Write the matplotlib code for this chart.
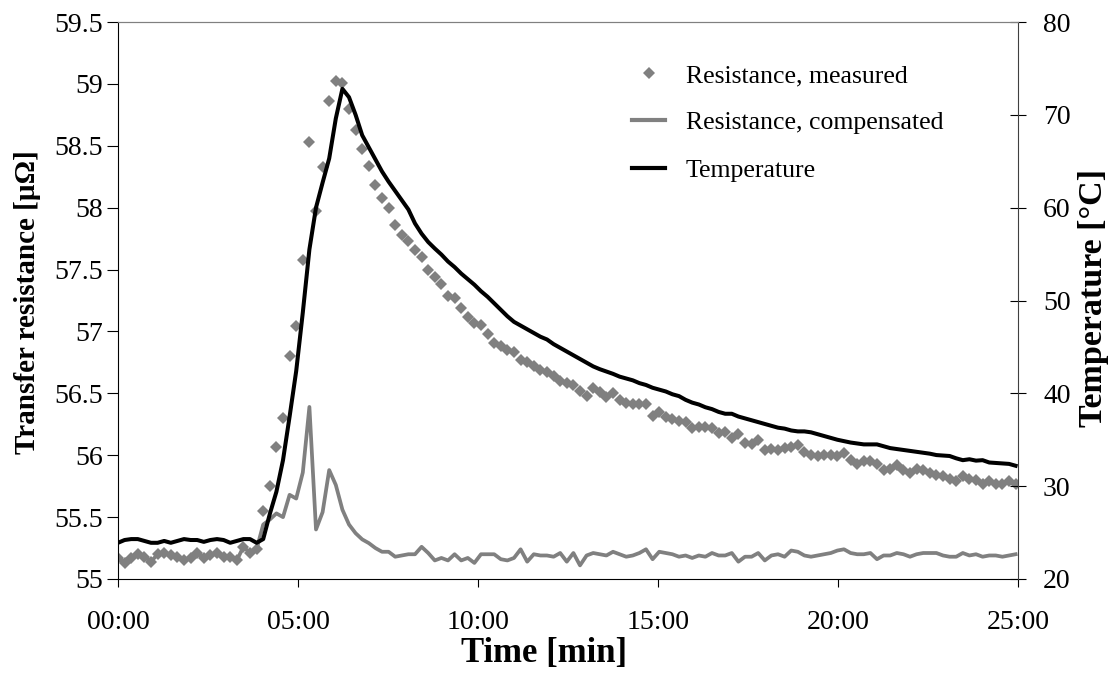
import numpy as np
import matplotlib
matplotlib.use('Agg')
import matplotlib.pyplot as plt
from matplotlib.ticker import MultipleLocator, FormatStrFormatter, FuncFormatter
from matplotlib.lines import Line2D

plt.rcParams['font.family'] = ['Liberation Serif', 'DejaVu Serif']

SAMPLE_SECONDS = 11

# transfer resistance as measured [uOhm]
resistance_measured = [
    55.17, 55.13, 55.17, 55.20, 55.18, 55.14, 55.20, 55.21, 55.19, 55.18,
    55.15, 55.17, 55.21, 55.17, 55.19, 55.21, 55.18, 55.18, 55.15, 55.26,
    55.21, 55.24, 55.55, 55.75, 56.07, 56.30, 56.80, 57.04, 57.58, 58.53,
    57.97, 58.33, 58.86, 59.02, 59.01, 58.80, 58.63, 58.47, 58.34, 58.18,
    58.08, 58.00, 57.86, 57.78, 57.73, 57.66, 57.60, 57.50, 57.44, 57.38,
    57.29, 57.27, 57.19, 57.12, 57.07, 57.05, 56.98, 56.91, 56.88, 56.85,
    56.83, 56.77, 56.75, 56.72, 56.69, 56.67, 56.64, 56.60, 56.58, 56.57,
    56.52, 56.48, 56.54, 56.51, 56.47, 56.50, 56.45, 56.42, 56.41, 56.41,
    56.41, 56.32, 56.35, 56.31, 56.29, 56.28, 56.27, 56.22, 56.23, 56.23,
    56.22, 56.18, 56.19, 56.14, 56.17, 56.10, 56.09, 56.12, 56.04, 56.05,
    56.04, 56.06, 56.07, 56.08, 56.03, 56.00, 55.99, 56.00, 56.00, 55.99,
    56.02, 55.96, 55.93, 55.95, 55.95, 55.93, 55.88, 55.89, 55.92, 55.88,
    55.86, 55.89, 55.88, 55.86, 55.84, 55.83, 55.81, 55.79, 55.83, 55.81,
    55.80, 55.77, 55.79, 55.77, 55.77, 55.79, 55.77,
]

# temperature compensated resistance [uOhm]
resistance_compensated = [
    55.17, 55.13, 55.17, 55.20, 55.18, 55.14, 55.20, 55.21, 55.19, 55.18,
    55.15, 55.17, 55.21, 55.17, 55.19, 55.21, 55.18, 55.18, 55.15, 55.26,
    55.21, 55.24, 55.44, 55.48, 55.53, 55.50, 55.68, 55.65, 55.86, 56.39,
    55.40, 55.54, 55.88, 55.76, 55.56, 55.44, 55.37, 55.32, 55.29, 55.25,
    55.22, 55.22, 55.18, 55.19, 55.20, 55.20, 55.26, 55.21, 55.15, 55.17,
    55.15, 55.20, 55.15, 55.17, 55.13, 55.20, 55.20, 55.20, 55.16, 55.15,
    55.17, 55.24, 55.14, 55.20, 55.19, 55.19, 55.18, 55.21, 55.14, 55.21,
    55.11, 55.19, 55.21, 55.20, 55.19, 55.22, 55.20, 55.18, 55.19, 55.21,
    55.24, 55.16, 55.22, 55.21, 55.20, 55.18, 55.19, 55.17, 55.19, 55.18,
    55.21, 55.19, 55.19, 55.21, 55.14, 55.18, 55.18, 55.21, 55.15, 55.19,
    55.20, 55.18, 55.23, 55.22, 55.19, 55.18, 55.19, 55.20, 55.21, 55.23,
    55.24, 55.21, 55.20, 55.20, 55.21, 55.16, 55.19, 55.19, 55.21, 55.20,
    55.18, 55.20, 55.21, 55.21, 55.21, 55.19, 55.18, 55.18, 55.21, 55.19,
    55.20, 55.18, 55.19, 55.19, 55.18, 55.19, 55.20,
]

# temperature [degC]
temperature = [
    23.9, 24.2, 24.3, 24.3, 24.1, 23.9, 23.9, 24.1, 23.9, 24.1,
    24.3, 24.2, 24.2, 24.0, 24.2, 24.3, 24.2, 23.9, 24.1, 24.3,
    24.3, 23.9, 24.3, 27.0, 29.4, 32.8, 37.5, 42.4, 48.7, 55.5,
    60.0, 62.7, 65.3, 69.6, 72.8, 71.9, 70.0, 67.8, 66.5, 65.2,
    63.9, 62.8, 61.8, 60.8, 59.8, 58.3, 57.2, 56.3, 55.6, 54.95,
    54.2, 53.6, 52.9, 52.3, 51.7, 51.0, 50.4, 49.7, 49.0, 48.3,
    47.7, 47.3, 46.9, 46.5, 46.1, 45.8, 45.3, 44.9, 44.5, 44.1,
    43.7, 43.3, 42.9, 42.6, 42.35, 42.1, 41.8, 41.6, 41.4, 41.1,
    40.9, 40.6, 40.4, 40.2, 39.9, 39.7, 39.3, 39.0, 38.8, 38.5,
    38.3, 38.0, 37.8, 37.8, 37.5, 37.3, 37.1, 36.9, 36.7, 36.5,
    36.3, 36.2, 36.0, 35.9, 35.9, 35.8, 35.6, 35.4, 35.2, 35.0,
    34.85, 34.7, 34.6, 34.5, 34.5, 34.5, 34.3, 34.1, 34.0, 33.9,
    33.8, 33.7, 33.6, 33.5, 33.35, 33.3, 33.25, 33.0, 32.8, 32.9,
    32.75, 32.8, 32.55, 32.5, 32.45, 32.4, 32.2,
]

time_min = np.arange(len(temperature)) * SAMPLE_SECONDS / 60.0

GRAY = '#808080'


def main():
    fig = plt.figure(figsize=(11.1, 6.73), dpi=100)
    ax = fig.add_axes([118 / 1110, 1 - 579 / 673, 900 / 1110, 557 / 673])
    ax2 = ax.twinx()

    ax.plot(time_min, resistance_measured, linestyle='none', marker='D',
            markersize=6.5, color=GRAY, markeredgewidth=0)
    ax.plot(time_min, resistance_compensated, color=GRAY, linewidth=2.7)
    ax2.plot(time_min, temperature, color='black', linewidth=2.9)

    ax.set_xlim(0, 25)
    ax.set_ylim(55, 59.5)
    ax2.set_ylim(20, 80)

    ax.xaxis.set_major_locator(MultipleLocator(5))
    ax.xaxis.set_major_formatter(FuncFormatter(lambda v, _: '%02d:00' % int(round(v))))
    ax.yaxis.set_major_locator(MultipleLocator(0.5))
    ax.yaxis.set_major_formatter(FormatStrFormatter('%g'))
    ax2.yaxis.set_major_locator(MultipleLocator(10))

    ax.tick_params(axis='y', direction='out', length=8, width=0.8, pad=3, labelsize=20)
    ax.tick_params(axis='x', direction='out', length=6, width=0.8, pad=16, labelsize=20)
    ax2.tick_params(axis='y', direction='inout', length=12, width=0.8, pad=12, labelsize=20)

    ax.spines['top'].set_color(GRAY)
    ax.spines['right'].set_visible(False)
    ax2.spines['left'].set_visible(False)
    ax2.spines['bottom'].set_visible(False)
    ax2.spines['top'].set_color(GRAY)
    ax2.spines['right'].set_color('#404040')

    ax.set_xlabel('Time [min]', fontsize=25, fontweight='bold', va='center')
    ax.xaxis.set_label_coords(0.473, -0.134)
    ax.set_ylabel('Transfer resistance [µΩ]', fontsize=21, fontweight='bold',
                  va='center', ha='center')
    ax.yaxis.set_label_coords(-0.1, 0.497)
    ax2.set_ylabel('Temperature [°C]', fontsize=24.5, fontweight='bold',
                   va='center', ha='center', rotation=90)
    ax2.yaxis.set_label_coords(1.0835, 0.505)

    handles = [
        Line2D([], [], linestyle='none', marker='D', markersize=6.5,
               color=GRAY, markeredgewidth=0),
        Line2D([], [], color=GRAY, linewidth=3),
        Line2D([], [], color='black', linewidth=3),
    ]
    labels = ['Resistance, measured', 'Resistance, compensated', 'Temperature']
    ax2.legend(handles, labels, loc='upper left',
               bbox_to_anchor=(632 / 1110, 1 - 64 / 673),
               bbox_transform=fig.transFigure, frameon=False, fontsize=18.5,
               handlelength=1.3, handletextpad=0.8, labelspacing=0.95,
               borderpad=0, borderaxespad=0, numpoints=1)

    fig.savefig('out.png', dpi=100)


if __name__ == '__main__':
    main()
